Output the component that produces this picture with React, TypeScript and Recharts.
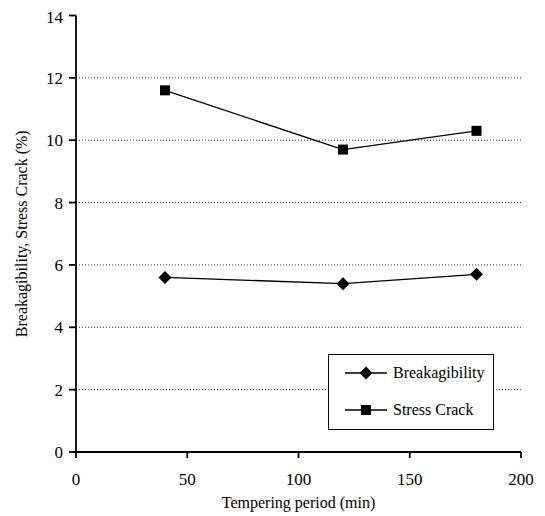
import { CartesianGrid, Line, LineChart, XAxis, YAxis } from 'recharts';

const periods = [40, 120, 180];
const breakagibility = [5.6, 5.4, 5.7];
const stressCrack = [11.6, 9.7, 10.3];
const xTicks = [0, 50, 100, 150, 200];
const yTicks = [0, 2, 4, 6, 8, 10, 12, 14];

const data = periods.map((p, i) => ({
  period: p,
  breakagibility: breakagibility[i],
  stressCrack: stressCrack[i],
}));

const font = 'Liberation Serif';

const Diamond = ({ cx, cy }: any) => {
  if (cx == null || cy == null) return null;
  const r = 6.5;
  return (
    <path
      d={`M${cx},${cy - r}L${cx + r},${cy}L${cx},${cy + r}L${cx - r},${cy}Z`}
      fill='#000'
    />
  );
};

const Square = ({ cx, cy }: any) => {
  if (cx == null || cy == null) return null;
  const s = 5;
  return <rect x={cx - s} y={cy - s} width={s * 2} height={s * 2} fill='#000' />;
};

const XTick = ({ x, y, payload }: any) => (
  <text
    x={x}
    y={y}
    dy={19}
    textAnchor='middle'
    fill='#000'
    style={{ fontFamily: font, fontSize: 17 }}
  >
    {payload.value}
  </text>
);

const YTick = ({ x, y, payload }: any) => (
  <text
    x={x}
    y={y}
    dy={6}
    textAnchor='end'
    fill='#000'
    style={{ fontFamily: font, fontSize: 17 }}
  >
    {payload.value}
  </text>
);

// legend drawn as a plain box so it doesn't eat plot space
const LegendBox = () => {
  const rows = [
    { label: 'Breakagibility', Marker: Diamond },
    { label: 'Stress Crack', Marker: Square },
  ];
  return (
    <div
      style={{
        position: 'absolute',
        left: 320,
        top: 346,
        width: 166,
        height: 76,
        boxSizing: 'border-box',
        border: '1.5px solid #000',
        background: '#fff',
        fontFamily: font,
        fontSize: 16,
        color: '#000',
        paddingTop: 7,
      }}
    >
      {rows.map(({ label, Marker }) => (
        <div
          key={label}
          style={{ display: 'flex', alignItems: 'center', height: 22, marginBottom: 15 }}
        >
          <svg width={64} height={20} style={{ display: 'block' }}>
            <line x1={16} y1={10} x2={58} y2={10} stroke='#000' strokeWidth={1.3} />
            <Marker cx={37} cy={10} />
          </svg>
          <span>{label}</span>
        </div>
      ))}
    </div>
  );
};

export default function App() {
  return (
    <div style={{ position: 'relative', width: 537, height: 508, fontFamily: font }}>
      <LineChart
        width={537}
        height={508}
        data={data}
        margin={{ top: 7.5, right: 24, bottom: 0, left: 0 }}
      >
        <CartesianGrid
          horizontal
          vertical={false}
          stroke='#333'
          strokeDasharray='1 2'
          horizontalValues={[2, 4, 6, 8, 10, 12]}
        />
        <XAxis
          dataKey='period'
          type='number'
          domain={[0, 200]}
          ticks={xTicks}
          height={64}
          stroke='#000'
          strokeWidth={1.8}
          tickSize={6}
          tickMargin={8}
          tick={<XTick />}
          label={{
            value: 'Tempering period (min)',
            position: 'insideBottom',
            offset: 8,
            fill: '#000',
            style: { fontFamily: font, fontSize: 16 },
          }}
        />
        <XAxis
          xAxisId='top'
          orientation='top'
          dataKey='period'
          type='number'
          domain={[0, 200]}
          height={0}
          tick={false}
          tickLine={false}
          stroke='#000'
          strokeWidth={1.8}
        />
        <YAxis
          type='number'
          domain={[0, 14]}
          ticks={yTicks}
          width={68}
          stroke='#000'
          strokeWidth={1.8}
          tickSize={7}
          tickMargin={6}
          tick={<YTick />}
          label={{
            value: 'Breakagibility, Stress Crack (%)',
            angle: -90,
            position: 'insideLeft',
            offset: 13,
            fill: '#000',
            style: { textAnchor: 'middle', fontFamily: font, fontSize: 16 },
          }}
        />
        <YAxis
          yAxisId='right'
          orientation='right'
          type='number'
          domain={[0, 14]}
          width={0}
          tick={false}
          tickLine={false}
          stroke='#000'
          strokeWidth={1.8}
        />
        <Line
          type='linear'
          dataKey='breakagibility'
          name='Breakagibility'
          stroke='#000'
          strokeWidth={1.3}
          dot={<Diamond />}
          activeDot={false}
          isAnimationActive={false}
        />
        <Line
          type='linear'
          dataKey='stressCrack'
          name='Stress Crack'
          stroke='#000'
          strokeWidth={1.3}
          dot={<Square />}
          activeDot={false}
          isAnimationActive={false}
        />
      </LineChart>
      <LegendBox />
    </div>
  );
}
